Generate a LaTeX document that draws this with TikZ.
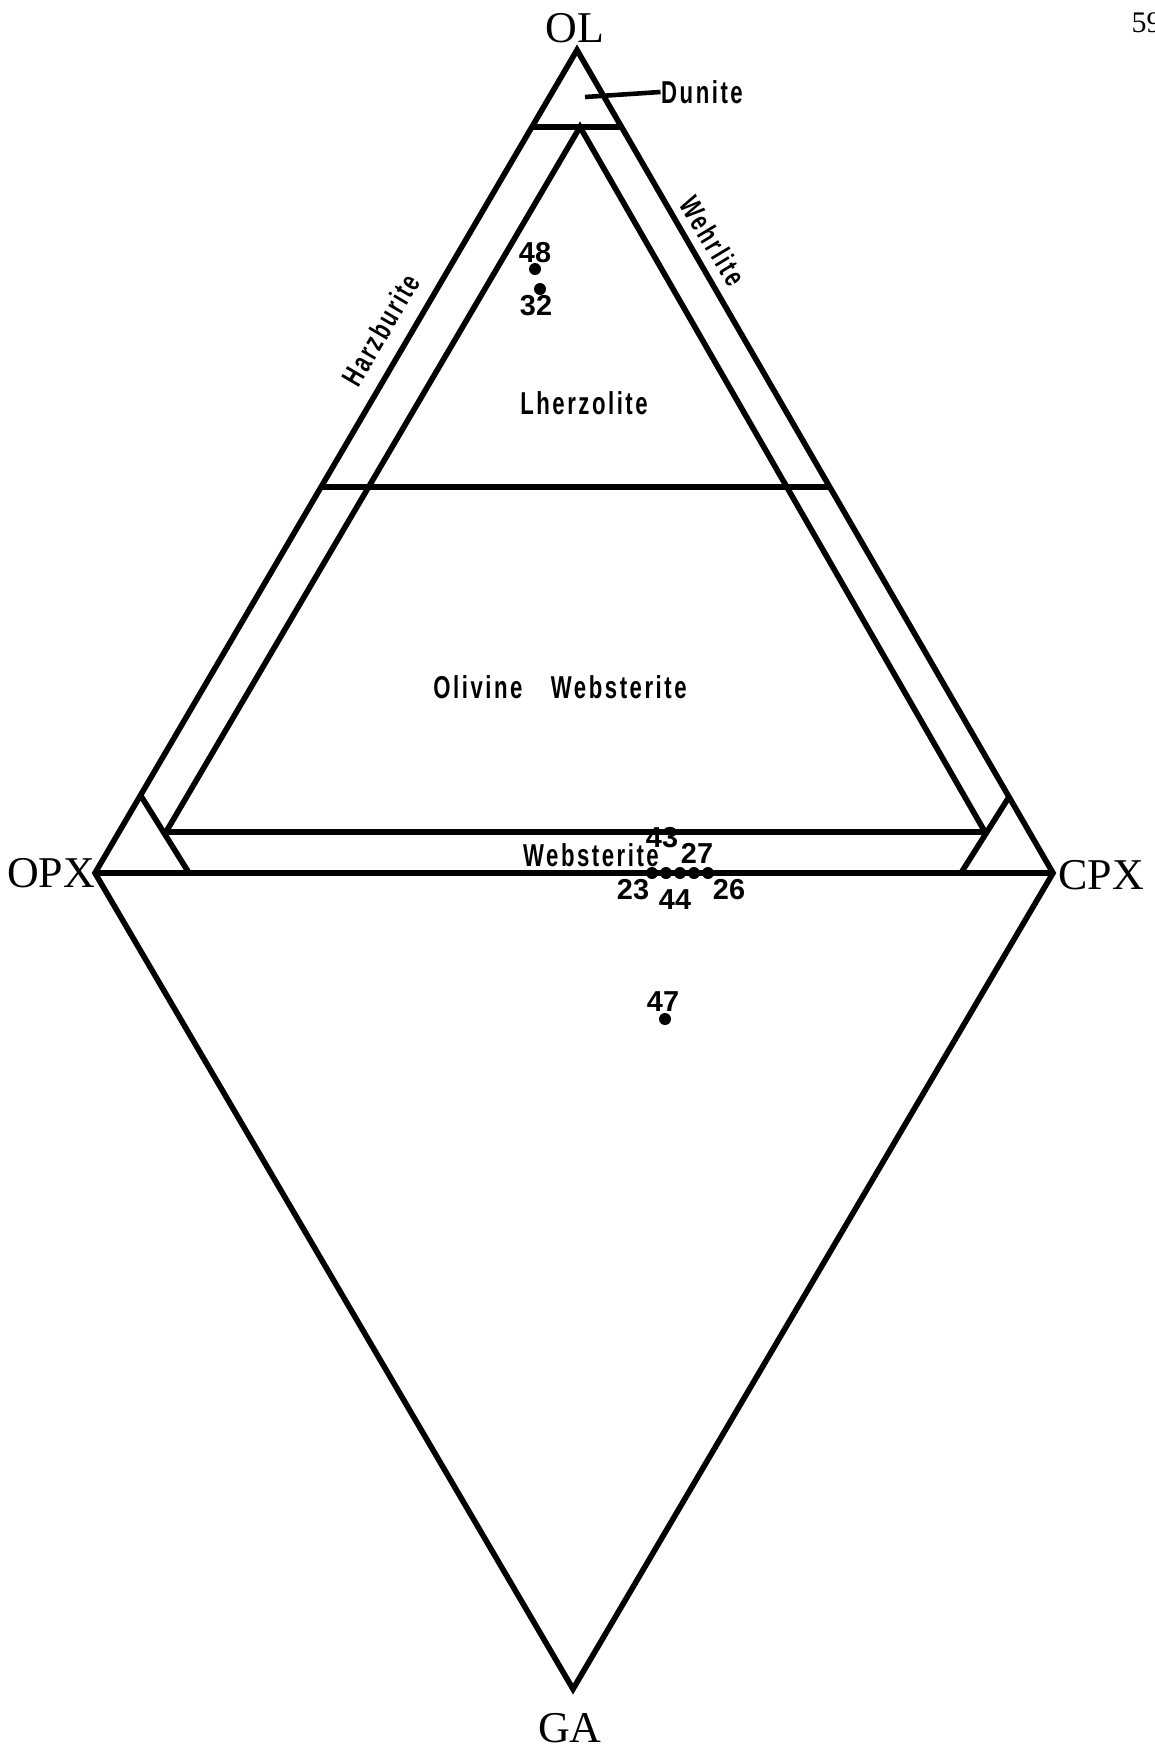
\documentclass[tikz,border=0pt]{standalone}
\usepackage{fontspec}
\newfontfamily\apexfont{Liberation Serif}
\newfontfamily\fieldfont[FakeStretch=0.7, LetterSpace=8]{Liberation Sans}
\newfontfamily\numfont{Liberation Sans}
\usetikzlibrary{positioning, calc}

\begin{document}
\begin{tikzpicture}[
  x=0.01cm, y=-0.01cm,
  every node/.style={inner sep=0pt},
  edge/.style  = {line width=1.6pt, line join=miter},
  apex/.style  = {font=\apexfont\fontsize{12.5pt}{14pt}\selectfont},
  field/.style = {font=\fieldfont\bfseries\fontsize{9pt}{10pt}\selectfont},
  side/.style  = {field, font=\fieldfont\bfseries\fontsize{8.4pt}{10pt}\selectfont},
  dot/.style   = {circle, fill=black, minimum size=0.12cm},
  num/.style   = {font=\numfont\bfseries\fontsize{8.2pt}{10pt}\selectfont},
]
  \useasboundingbox (0,0) rectangle (1155,1754);
  % corners of the diagram
  \coordinate (ol)  at (577,50);
  \coordinate (opx) at (95,873);
  \coordinate (cpx) at (1053,873);
  \coordinate (ga)  at (573,1689);
  % field boundaries
  \coordinate (dunL) at (532,127);   \coordinate (dunR) at (622,127);
  \coordinate (inTop) at (580,127);
  \coordinate (inL) at (166,832);    \coordinate (inR) at (985,832);
  \coordinate (lhzL) at (321,487);   \coordinate (lhzR) at (830,487);
  \coordinate (opxT) at (141,796);   \coordinate (opxB) at (189,873);
  \coordinate (cpxT) at (1009,797);  \coordinate (cpxB) at (961,873);

  \draw[edge] (ol) -- (opx) -- (ga) -- (cpx) -- cycle;
  \draw[edge] (opx) -- (cpx);
  \draw[edge] (dunL) -- (dunR);
  \draw[edge] (inL) -- (inTop) -- (inR);
  \draw[edge] (lhzL) -- (lhzR);
  \draw[edge] (inL) -- (inR);
  \draw[edge] (opxT) -- (opxB);
  \draw[edge] (cpxT) -- (cpxB);

  % corner labels
  \node[apex] (lOL)  at (575,28)   {OL};
  \node[apex] (lOPX) at (51,873)   {OPX};
  \node[apex] (lCPX) at (1101,875) {CPX};
  \node[apex] (lGA)  at (570,1728) {GA};
  \node[apex, anchor=west, font=\apexfont\fontsize{8.5pt}{10pt}\selectfont] (page) at (1131,23) {59};

  % rock names
  \node[field] (dunite) at (702,92)  {Dunite};
  \coordinate (dunTip) at (585,97);
  \draw[line width=1.3pt] (dunTip) -- (dunite.west);
  \node[side, rotate=59.6] (harz) at (381,330) {Harzburite};
  \node[side, rotate=-59]  (wehr) at (713,241) {Wehrlite};
  \node[field] (lherz) at (584,403) {Lherzolite};
  \node[field] (olweb) at (560,687) {Olivine\hspace{0.9em}Websterite};
  \node[field] (web)   at (591,855) {Websterite};

  % samples
  \foreach \n/\px/\py/\lx/\ly in {48/535/269/535/253, 32/540/289/536/306,
      23/652/873/633/890, 43/666/873/662/838, 44/680/873/675/900,
      27/694/873/697/853, 26/708/873/729/890, 47/665/1019/663/1002}
  {
    \node[dot] (p\n) at (\px,\py) {};
    \node[num] (n\n) at (\lx,\ly) {\n};
  }
\end{tikzpicture}
\end{document}
